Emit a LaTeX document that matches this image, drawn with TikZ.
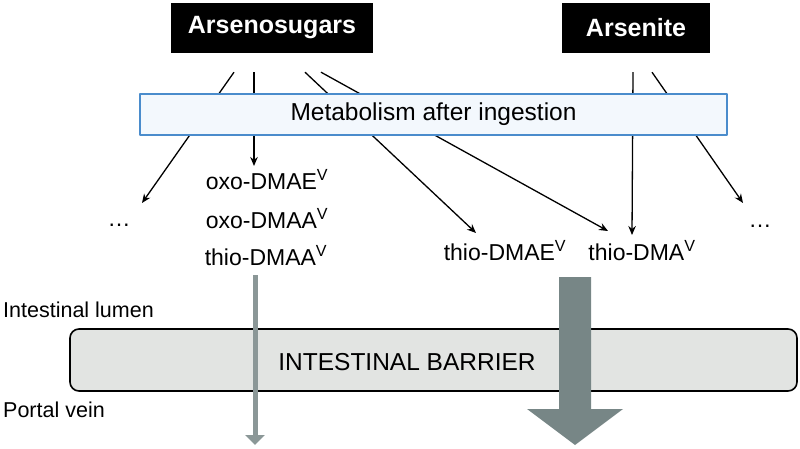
\documentclass[tikz,border=0pt]{standalone}
\usepackage{fontspec}
\setmainfont{Liberation Sans}
\usetikzlibrary{arrows.meta}
\definecolor{metblue}{HTML}{4A8CCC}
\definecolor{metfill}{HTML}{F3F8FD}
\definecolor{barrierfill}{HTML}{E2E4E2}
\definecolor{flowthin}{HTML}{8B9797}
\definecolor{flowbig}{HTML}{778686}
\tikzset{
  src/.style={fill=black,text=white,font=\fontsize{25}{29}\selectfont\bfseries,minimum height=50pt,inner sep=0pt},
  species/.style={font=\fontsize{23}{27}\selectfont,inner sep=0pt},
  side/.style={font=\fontsize{21.5}{25}\selectfont,inner sep=0pt,anchor=west},
  route/.style={-{Stealth[length=9pt,width=7.5pt]},line width=1.3pt},
}
\begin{document}
\begin{tikzpicture}[x=1pt,y=-1pt,line join=round]
\useasboundingbox (0,0) rectangle (800,449);
% sources
\node[src,minimum width=202pt] (sugars) at (272,28) {Arsenosugars};
\node[src,minimum width=148pt] (arsenite) at (636,28) {Arsenite};
% metabolites
\node[species] (dotsL) at (119,225) {…};
\node[species] (oxodmae) at (267,180) {oxo-DMAE\textsuperscript{V}};
\node[species] (oxodmaa) at (267,219) {oxo-DMAA\textsuperscript{V}};
\node[species] (thiodmaa) at (266,256) {thio-DMAA\textsuperscript{V}};
\node[species] (thiodmae) at (505,251) {thio-DMAE\textsuperscript{V}};
\node[species] (thiodma) at (642,251) {thio-DMA\textsuperscript{V}};
\node[species] (dotsR) at (760,226) {…};
% routes (behind the metabolism box)
\draw[route] ([shift={(-38,19)}]sugars.south) -- ([shift={(23,-22)}]dotsL.center);
\draw[route] ([shift={(-18,19)}]sugars.south) -- ([shift={(-13,-14)}]oxodmae.center);
\draw[route] ([shift={(33,19)}]sugars.south) -- ([shift={(-29,-18)}]thiodmae.center);
\draw[route] ([shift={(49,19)}]sugars.south) -- ([shift={(-34,-20)}]thiodma.center);
\draw[route] ([shift={(-3,19)}]arsenite.south) -- ([shift={(-10,-16)}]thiodma.center);
\draw[route] ([shift={(16,19)}]arsenite.south) -- ([shift={(-17,-23)}]dotsR.center);
\node[draw=metblue,fill=metfill,line width=1.5pt,minimum width=587pt,minimum height=41pt,
  font=\fontsize{24.5}{28}\selectfont] (metab) at (433.5,114.5) {Metabolism after ingestion};
% barrier
\node[side] (lumen) at (3,310) {Intestinal lumen};
\node[side] (portal) at (3,410) {Portal vein};
\node[draw,fill=barrierfill,rounded corners=9pt,line width=1.6pt,minimum width=727pt,minimum height=62pt] (barrier) at (433.5,360) {};
\node[font=\fontsize{24.5}{28}\selectfont,inner sep=0pt] (barriertext) at (407,362) {INTESTINAL BARRIER};
% transport
\coordinate (thintop) at (255,275);
\coordinate (thinend) at (255,445);
\draw[flowthin,line width=5pt,-{Triangle[length=10pt,width=19pt]}] (thintop) -- (thinend);
\coordinate (bigtop) at (575,277);
\fill[flowbig] (bigtop) ++(-16,0) -- ++(0,132) -- ++(-32,0) -- (575,445) -- (623,409) -- ++(-32,0) -- ++(0,-132) -- cycle;
\end{tikzpicture}
\end{document}
